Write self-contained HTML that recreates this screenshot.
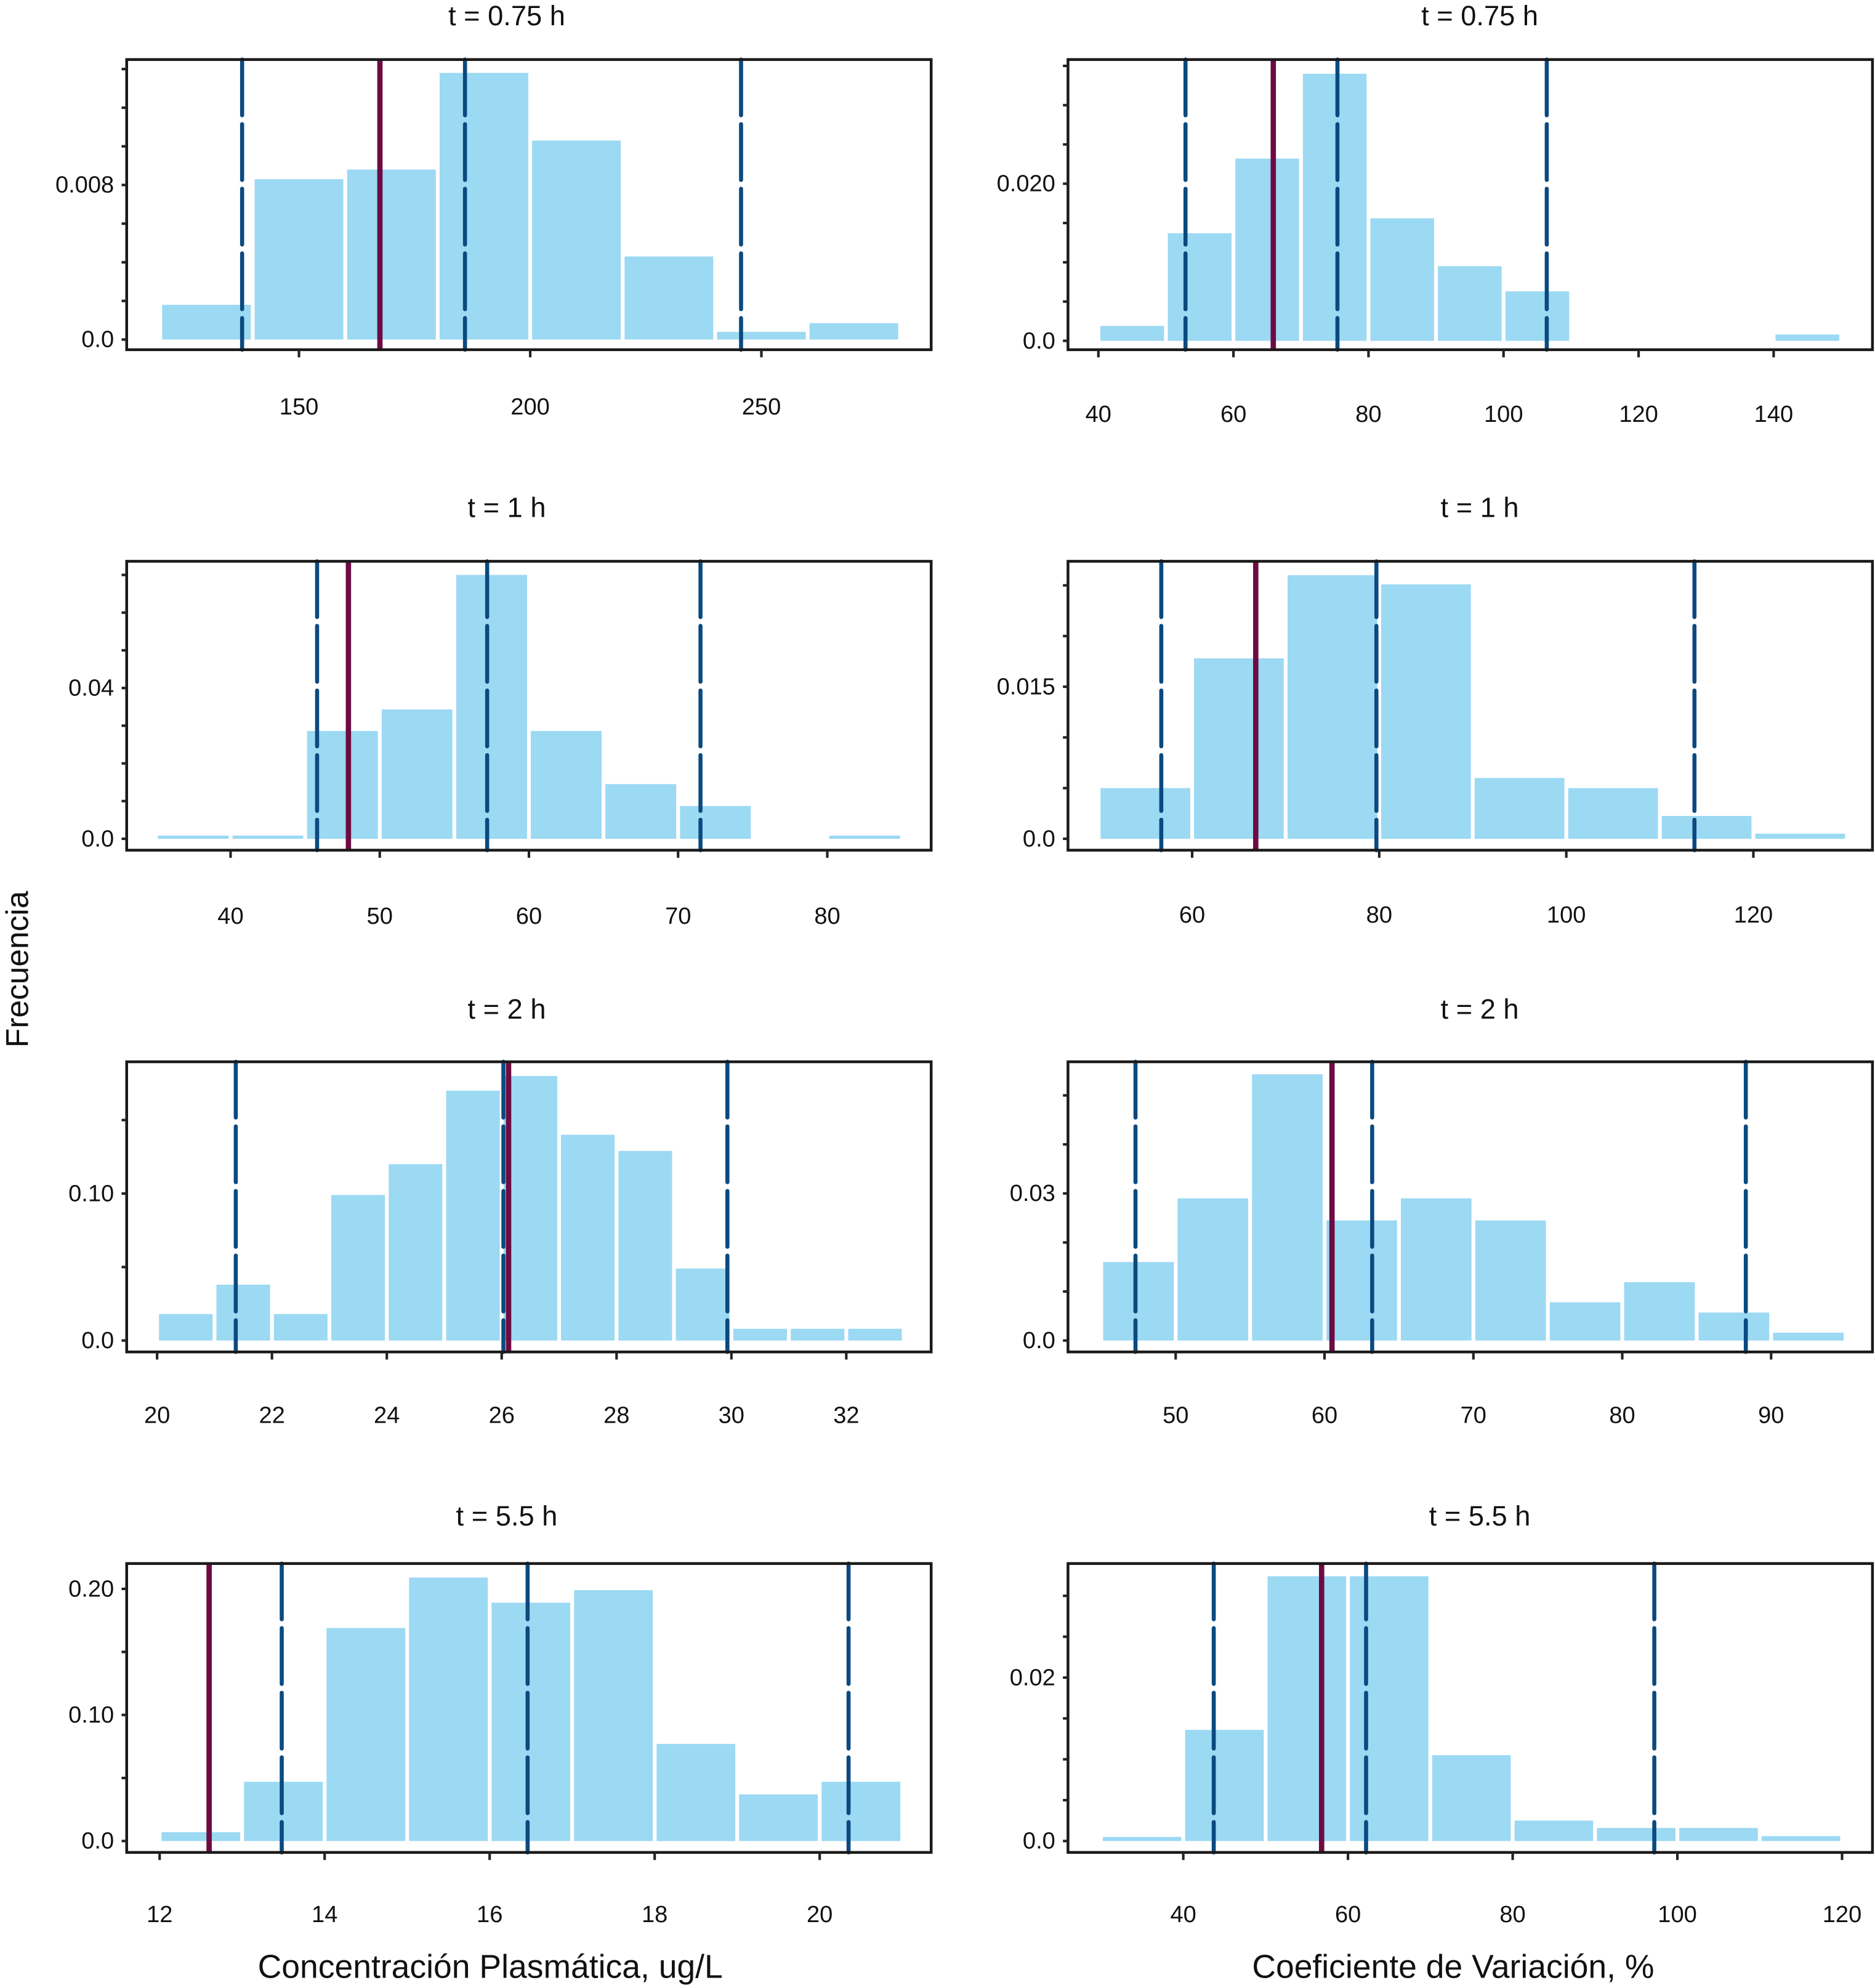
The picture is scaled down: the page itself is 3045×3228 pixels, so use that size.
<!DOCTYPE html>
<html><head><meta charset="utf-8"><style>
html,body{margin:0;padding:0;background:#fff}
svg{display:block}
text{font-family:"Liberation Sans",sans-serif;fill:#111}
</style></head><body>
<svg id="c" xmlns="http://www.w3.org/2000/svg" width="3045" height="3228" viewBox="0 0 1480 1569" preserveAspectRatio="none">
<rect width="1480" height="1569" fill="#fff"/>
<text x="387" y="1561" font-size="26" text-anchor="middle">Concentración Plasmática, ug/L</text>
<text x="1147" y="1561" font-size="26" text-anchor="middle">Coeficiente de Variación, %</text>
<text x="22" y="765" font-size="25" text-anchor="middle" transform="rotate(-90 22 765)">Frecuencia</text>
</svg>
<script>
// ---- data ----
const titles = ["t = 0.75 h","t = 0.75 h","t = 1 h","t = 1 h","t = 2 h","t = 2 h","t = 5.5 h","t = 5.5 h"];
const p1Bins=[120,140,160,180,200,220,240,260]; const p1W=20;
const p1Vals=[0.0018,0.0083,0.0088,0.0138,0.0103,0.0043,0.0004,0.00085];
const p1Lines=[137.7,185.9,245.6]; const p1Mean=167.5;
const p1XTicks=[150,200,250]; const p1YTicks=[0,0.008]; const p1YLabels=["0.0","0.008"];
const p2Bins=[40,50,60,70,80,90,100,110,120,130,140]; const p2W=10;
const p2Vals=[0.0019,0.0137,0.0232,0.034,0.0156,0.0095,0.0063,0,0,0,0.0008];
const p2Lines=[52.9,75.4,106.4]; const p2Mean=65.9;
const p2XTicks=[40,60,80,100,120,140]; const p2YTicks=[0,0.02]; const p2YLabels=["0.0","0.020"];
const p3Bins=[35,40,45,50,55,60,65,70,75,80]; const p3W=5;
const p3Vals=[0.0007,0.0007,0.0286,0.0343,0.07,0.0286,0.0145,0.0087,0,0.0007];
const p3Lines=[45.8,57.2,71.5]; const p3Mean=47.9;
const p3XTicks=[40,50,60,70,80]; const p3YTicks=[0,0.04]; const p3YLabels=["0.0","0.04"];
const p4Bins=[50,60,70,80,90,100,110,120]; const p4W=10;
const p4Vals=[0.005,0.0178,0.026,0.0251,0.006,0.005,0.00225,0.0005];
const p4Lines=[56.7,79.7,113.7]; const p4Mean=66.8;
const p4XTicks=[60,80,100,120]; const p4YTicks=[0,0.015]; const p4YLabels=["0.0","0.015"];
const p5Bins=[20,21,22,23,24,25,26,27,28,29,30,31,32]; const p5W=1;
const p5Vals=[0.018,0.038,0.018,0.099,0.12,0.17,0.18,0.14,0.129,0.049,0.008,0.008,0.008];
const p5Lines=[21.37,26.03,29.93]; const p5Mean=26.12;
const p5XTicks=[20,22,24,26,28,30,32]; const p5YTicks=[0,0.1]; const p5YLabels=["0.0","0.10"];
const p6Bins=[45,50,55,60,65,70,75,80,85,90]; const p6W=5;
const p6Vals=[0.016,0.029,0.0543,0.0245,0.029,0.0245,0.0078,0.0119,0.0057,0.0016];
const p6Lines=[47.3,63.2,88.3]; const p6Mean=60.5;
const p6XTicks=[50,60,70,80,90]; const p6YTicks=[0,0.03]; const p6YLabels=["0.0","0.03"];
const p7Bins=[12,13,14,15,16,17,18,19,20]; const p7W=1;
const p7Vals=[0.007,0.047,0.169,0.209,0.189,0.199,0.077,0.037,0.047];
const p7Lines=[13.48,16.46,20.35]; const p7Mean=12.6;
const p7XTicks=[12,14,16,18,20]; const p7YTicks=[0,0.1,0.2]; const p7YLabels=["0.0","0.10","0.20"];
const p8Bins=[30,40,50,60,70,80,90,100,110]; const p8W=10;
const p8Vals=[0.0005,0.0136,0.0324,0.0324,0.0105,0.0025,0.0016,0.0016,0.0006];
const p8Lines=[43.7,62.2,97.2]; const p8Mean=56.8;
const p8XTicks=[40,60,80,100,120]; const p8YTicks=[0,0.02]; const p8YLabels=["0.0","0.02"];

const panels=[
 {bins:p1Bins,w:p1W,vals:p1Vals,lines:p1Lines,mean:p1Mean,xt:p1XTicks,yt:p1YTicks,yl:p1YLabels},
 {bins:p2Bins,w:p2W,vals:p2Vals,lines:p2Lines,mean:p2Mean,xt:p2XTicks,yt:p2YTicks,yl:p2YLabels},
 {bins:p3Bins,w:p3W,vals:p3Vals,lines:p3Lines,mean:p3Mean,xt:p3XTicks,yt:p3YTicks,yl:p3YLabels},
 {bins:p4Bins,w:p4W,vals:p4Vals,lines:p4Lines,mean:p4Mean,xt:p4XTicks,yt:p4YTicks,yl:p4YLabels},
 {bins:p5Bins,w:p5W,vals:p5Vals,lines:p5Lines,mean:p5Mean,xt:p5XTicks,yt:p5YTicks,yl:p5YLabels},
 {bins:p6Bins,w:p6W,vals:p6Vals,lines:p6Lines,mean:p6Mean,xt:p6XTicks,yt:p6YTicks,yl:p6YLabels},
 {bins:p7Bins,w:p7W,vals:p7Vals,lines:p7Lines,mean:p7Mean,xt:p7XTicks,yt:p7YTicks,yl:p7YLabels},
 {bins:p8Bins,w:p8W,vals:p8Vals,lines:p8Lines,mean:p8Mean,xt:p8XTicks,yt:p8YTicks,yl:p8YLabels}
];
// ---- layout (pixel calibration, not data) ----
const layout=[
 {L:100,R:735,T:47,B:276,xa:[150,236],xb:[250,601],y0:268,ypx:15250,minor:0.002,lab:321},
 {L:843,R:1478,T:47,B:276,xa:[40,867],xb:[140,1400],y0:269,ypx:6200,minor:0.005,lab:327},
 {L:100,R:735,T:443,B:671,xa:[40,182],xb:[80,653],y0:662,ypx:2975,minor:0.01,lab:723},
 {L:843,R:1478,T:443,B:671,xa:[60,941],xb:[120,1384],y0:662,ypx:8000,minor:0.005,lab:722},
 {L:100,R:735,T:838,B:1067,xa:[20,124],xb:[32,668],y0:1058,ypx:1160,minor:0.05,lab:1117},
 {L:843,R:1478,T:838,B:1067,xa:[50,928],xb:[90,1398],y0:1058,ypx:3870,minor:0.01,lab:1117},
 {L:100,R:735,T:1234,B:1462,xa:[12,126],xb:[20,647],y0:1453,ypx:995,minor:0.05,lab:1511},
 {L:843,R:1478,T:1234,B:1462,xa:[40,934],xb:[120,1454],y0:1453,ypx:6450,minor:0.005,lab:1511}
];
const titleX=[400,400,405,1168,398,1168,398,1168];
const titleY=[20,20,408,408,804,804,1204,1204];
const svg=document.getElementById('c');
const NS='http://www.w3.org/2000/svg';
function mk(tag,attrs,parent){const e=document.createElementNS(NS,tag);for(const k in attrs)e.setAttribute(k,attrs[k]);(parent||svg).appendChild(e);return e;}
panels.forEach((p,i)=>{
 const g=layout[i];
 const sx=v=>g.xa[1]+(v-g.xa[0])*(g.xb[1]-g.xa[1])/(g.xb[0]-g.xa[0]);
 const sy=v=>g.y0-v*g.ypx;
 const grp=mk('g',{});
 
 
 const t=mk('text',{x:(i%2?1168:400),y:titleY[i],'font-size':22,'text-anchor':'middle'},grp);
 t.textContent=titles[i];
 
 
 p.bins.forEach((b,j)=>{
  const x1=sx(b)+1.5,x2=sx(b+p.w)-1.5,y=sy(p.vals[j]);
  const h=p.vals[j]>0?Math.max(2.5,g.y0-y):0;
  const r=mk('rect',{x:x1,y:g.y0-h,width:x2-x1,height:h,fill:'#9cd9f3'},grp);
  
  
 });
 p.lines.forEach(v=>{
  const l=mk('line',{x1:sx(v),x2:sx(v),y1:g.T,y2:g.B,stroke:'#0b4a80','stroke-width':3.2,'stroke-dasharray':'44 7','stroke-linecap':'round'},grp);
  
  
 });
 const m=mk('line',{x1:sx(p.mean),x2:sx(p.mean),y1:g.T,y2:g.B,stroke:'#6d0b42','stroke-width':4.2},grp);
 
 
 const box=mk('rect',{x:g.L,y:g.T,width:g.R-g.L,height:g.B-g.T,fill:'none',stroke:'#1a1a1a','stroke-width':2.2},grp);
 
 
 for(let v=0;sy(v)>g.T+3;v=+(v+g.minor).toFixed(6)){
  mk('line',{x1:g.L-4,x2:g.L,y1:sy(v),y2:sy(v),stroke:'#222','stroke-width':2},grp);
 }
 p.yt.forEach((v,j)=>{
  const tx=mk('text',{x:g.L-10,y:sy(v)+6,'font-size':18.5,'text-anchor':'end'},grp);
  tx.textContent=p.yl[j];
  
  
 });
 p.xt.forEach(v=>{
  mk('line',{x1:sx(v),x2:sx(v),y1:g.B,y2:g.B+6,stroke:'#222','stroke-width':2},grp);
  const tx=mk('text',{x:sx(v),y:g.lab+6,'font-size':18.5,'text-anchor':'middle'},grp);
  tx.textContent=String(v);
  
  
 });
});
</script>
</body></html>
